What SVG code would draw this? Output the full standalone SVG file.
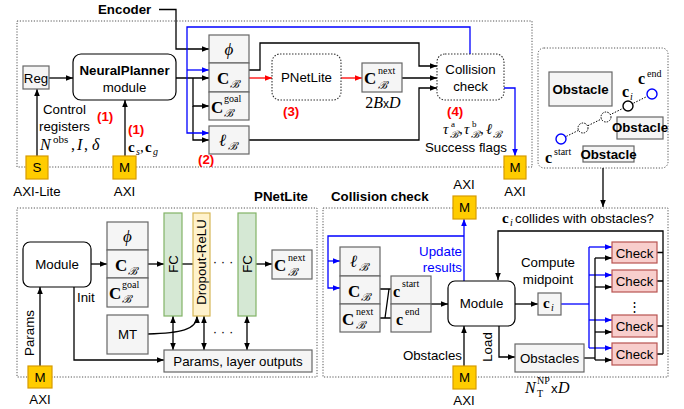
<svg xmlns="http://www.w3.org/2000/svg" width="684" height="409" viewBox="0 0 684 409">
<defs>
<style>
.s{font-family:"Liberation Sans",Arial,sans-serif;font-size:13.3px;fill:#000}
.b{font-weight:bold}
.m{font-family:"Liberation Serif","DejaVu Serif",serif;fill:#000}
.it{font-style:italic}
.box{fill:#f5f5f5;stroke:#666;stroke-width:1.2}
.ax{fill:#ffcc00;stroke:#d79b00;stroke-width:1.2}
.w{fill:#fff;stroke:#000;stroke-width:1.2}
.dot{fill:#fff;stroke:#333;stroke-dasharray:1.5 1.5;stroke-width:1.1}
.frame{fill:none;stroke:#555;stroke-dasharray:1.2 1.6;stroke-width:1}
.ln{fill:none;stroke:#000;stroke-width:1.3}
.bl{fill:none;stroke:#0000ff;stroke-width:1.3}
.rd{fill:none;stroke:#ff0000;stroke-width:1.3}
.red{fill:#ff0000;font-weight:bold}
.fc{fill:#d5e8d4;stroke:#82b366;stroke-width:1.2}
.dr{fill:#fff2cc;stroke:#d6b656;stroke-width:1.2}
.ck{fill:#f8cecc;stroke:#b85450;stroke-width:1.2}
</style>
<marker id="a" viewBox="0 0 10 10" refX="10" refY="5" markerWidth="8" markerHeight="7" orient="auto-start-reverse" markerUnits="userSpaceOnUse"><path d="M0,1 L10,5 L0,9 z" fill="#000"/></marker>
<marker id="ab" viewBox="0 0 10 10" refX="10" refY="5" markerWidth="8" markerHeight="7" orient="auto-start-reverse" markerUnits="userSpaceOnUse"><path d="M0,1 L10,5 L0,9 z" fill="#0000ff"/></marker>
<marker id="ar" viewBox="0 0 10 10" refX="10" refY="5" markerWidth="8" markerHeight="7" orient="auto-start-reverse" markerUnits="userSpaceOnUse"><path d="M0,1 L10,5 L0,9 z" fill="#ff0000"/></marker>
</defs>
<rect width="684" height="409" fill="#fff"/>

<!-- frames -->
<rect x="17" y="21" width="515" height="146" fill="#f9f6ec" class="frame"/>
<rect x="538" y="48" width="130" height="120" rx="6" class="frame"/>
<rect x="17" y="208" width="300" height="169" class="frame"/>
<rect x="323" y="208" width="345" height="169" class="frame"/>
<text class="s b" x="98" y="14">Encoder</text>
<text class="s b" x="308" y="201" text-anchor="end">PNetLite</text>
<text class="s b" x="331" y="201">Collision check</text>

<!-- connectors -->
<g id="connectors">
<path class="ln" d="M159,9.5 H176 V49 H209" marker-end="url(#a)"/>
<path class="ln" d="M49,78 H73" marker-end="url(#a)"/>
<path class="ln" d="M37,156 V89" marker-end="url(#a)"/>
<path class="ln" d="M125,156 V100" stroke-width="2.2" marker-end="url(#a)"/>
<path class="ln" d="M176,78 H209" marker-end="url(#a)"/>
<path class="ln" d="M193,78 V106 H209" marker-end="url(#a)"/>
<path class="ln" d="M193,106 V140 H209" marker-end="url(#a)"/>
<path class="bl" d="M470,54 V27 H187 V133 H209" marker-end="url(#ab)"/>
<path class="bl" d="M187,70 H209" marker-end="url(#ab)"/>
<path class="ln" d="M249,70 H260 V43 H419 V66 H437" marker-end="url(#a)"/>
<path class="rd" d="M249,78 H272" marker-end="url(#ar)"/>
<path class="rd" d="M341,78 H362" marker-end="url(#ar)"/>
<path class="ln" d="M402,78 H437" marker-end="url(#a)"/>
<path class="ln" d="M249,140 H419 V88 H437" marker-end="url(#a)"/>
<path class="bl" d="M504,88 H515 V156" marker-end="url(#ab)"/>
<path class="ln" d="M603,168 V207" marker-end="url(#a)"/>
<!-- PNetLite internals -->
<path class="ln" d="M91,264 H107" marker-end="url(#a)"/>
<path class="ln" d="M148,264 H164" marker-end="url(#a)"/>
<path class="ln" d="M182,264 H193"/>
<path class="ln" d="M256,264 H272" marker-end="url(#a)"/>
<path class="ln" d="M173,316 V350" marker-start="url(#a)" marker-end="url(#a)"/>
<path class="ln" d="M204,316 V350" marker-start="url(#a)" marker-end="url(#a)"/>
<path class="ln" d="M247,316 V350" marker-start="url(#a)" marker-end="url(#a)"/>
<path class="ln" d="M148,334 C180,333 197,330 197,316" marker-end="url(#a)"/>
<path class="ln" d="M74,287 V360 H164" marker-end="url(#a)"/>
<path class="ln" d="M40,366 V287" marker-end="url(#a)"/>
<!-- collision check internals -->
<path class="bl" d="M464,281 V219" marker-end="url(#ab)"/>
<path class="bl" d="M464,236 H328 V288 H340" marker-end="url(#ab)"/>
<path class="bl" d="M328,261 H340" marker-end="url(#ab)"/>
<path class="ln" d="M380,289 H391 M389,289 L385,318 M380,318 H391"/>
<path class="ln" d="M431,304 H448" marker-end="url(#a)"/>
<path class="ln" d="M464,366 V326" marker-end="url(#a)"/>
<path class="ln" d="M499,326 V357 H515" marker-end="url(#a)"/>
<path class="ln" d="M515,304 H538" marker-end="url(#a)"/>
<path class="bl" d="M561,304 H589" stroke-width="2.4"/>
<path class="bl" d="M589,247 V348"/>
<path class="bl" d="M589,247 H612" marker-end="url(#ab)"/>
<path class="bl" d="M589,275 H612" marker-end="url(#ab)"/>
<path class="bl" d="M589,320 H612" marker-end="url(#ab)"/>
<path class="bl" d="M589,348 H612" marker-end="url(#ab)"/>
<path class="ln" d="M584,358 H595" stroke-width="2.2"/>
<path class="ln" d="M595,258 V360"/>
<path class="ln" d="M595,258 H612" marker-end="url(#a)"/>
<path class="ln" d="M595,287 H612" marker-end="url(#a)"/>
<path class="ln" d="M595,332 H612" marker-end="url(#a)"/>
<path class="ln" d="M595,360 H612" marker-end="url(#a)"/>
<path class="ln" d="M657,252.5 H663 M657,281 H663 M657,326 H663 M657,354 H663"/>
<path class="ln" d="M663,354 V231 H498 V280" marker-end="url(#a)"/>
</g>

<!-- top pipeline -->
<g id="reg"><rect class="box" x="23" y="66" width="26" height="23"/><text class="s" x="36" y="82.5" text-anchor="middle">Reg</text></g>
<g id="neuralplanner"><rect class="w" x="73" y="54" width="103" height="46" rx="8"/>
<text class="s b" x="124.5" y="75" text-anchor="middle">NeuralPlanner</text>
<text class="s" x="124.5" y="92" text-anchor="middle">module</text></g>
<g id="axi-lite-s"><rect class="ax" x="26" y="156" width="22" height="23"/><text class="s" x="37" y="172" text-anchor="middle">S</text>
<text class="s" x="37" y="196" text-anchor="middle">AXI-Lite</text></g>
<g id="axi-m-in"><rect class="ax" x="113" y="156" width="23" height="23"/><text class="s" x="124.5" y="172" text-anchor="middle">M</text>
<text class="s" x="124.5" y="196" text-anchor="middle">AXI</text></g>
<text class="s" x="43" y="114">Control</text>
<text class="s" x="39" y="131">registers</text>
<text class="m it" x="40" y="150" font-size="16">N</text>
<text class="m" x="53" y="143" font-size="11">obs</text>
<text class="m" x="71" y="150" font-size="16">,</text>
<text class="m it" x="77" y="150" font-size="16">I</text>
<text class="m" x="84" y="150" font-size="16">,</text>
<text class="m it" x="92" y="150" font-size="16">δ</text>
<text class="s red" x="97" y="121">(1)</text>
<text class="s red" x="128" y="134">(1)</text>
<text class="m b" x="128" y="152" font-size="15">c</text><text class="m it" x="136" y="155" font-size="10">s</text>
<text class="m" x="140" y="152" font-size="15">,</text>
<text class="m b" x="145" y="152" font-size="15">c</text><text class="m it" x="153" y="155" font-size="10">g</text>

<g id="enc-phi"><rect class="box" x="209" y="35" width="40" height="28"/><text class="m it" x="229" y="55" font-size="17" text-anchor="middle">ϕ</text></g>
<g id="enc-cb"><rect class="box" x="209" y="63" width="40" height="29"/><text class="m b" x="217" y="84" font-size="17">C</text><text class="m it" x="230" y="88" font-size="11">ℬ</text></g>
<g id="enc-cgoal"><rect class="box" x="209" y="92" width="40" height="28"/><text class="m b" x="211" y="113" font-size="17">C</text><text class="m" x="224" y="102" font-size="10">goal</text><text class="m it" x="224" y="117" font-size="11">ℬ</text></g>
<g id="enc-l"><rect class="box" x="209" y="126" width="40" height="28"/><text class="m it" x="219" y="146" font-size="17">ℓ</text><text class="m it" x="228" y="150" font-size="11">ℬ</text></g>
<text class="s red" x="198" y="164">(2)</text>
<g id="pnetlite"><rect class="dot" x="272" y="54" width="69" height="46" rx="8"/><text class="s" x="306.5" y="82" text-anchor="middle">PNetLite</text></g>
<text class="s red" x="283" y="116">(3)</text>
<g id="cnext"><rect class="box" x="362" y="63" width="40" height="29"/><text class="m b" x="364" y="84" font-size="17">C</text><text class="m" x="378" y="74" font-size="10">next</text><text class="m it" x="378" y="89" font-size="11">ℬ</text></g>
<text class="m" x="383" y="108" font-size="16" text-anchor="middle">2<tspan class="it">B</tspan><tspan font-family="Liberation Sans,sans-serif" font-size="12">x</tspan><tspan class="it">D</tspan></text>
<g id="collision"><rect class="dot" x="437" y="54" width="67" height="46" rx="8"/>
<text class="s" x="470.5" y="74" text-anchor="middle">Collision</text><text class="s" x="470.5" y="91" text-anchor="middle">check</text></g>
<text class="s red" x="447" y="116">(4)</text>
<text class="m it" x="443" y="134" font-size="15">τ</text><text class="m" x="451" y="127" font-size="9">a</text><text class="m it" x="450" y="138" font-size="10">ℬ</text>
<text class="m" x="459" y="134" font-size="15">,</text>
<text class="m it" x="464" y="134" font-size="15">τ</text><text class="m" x="472" y="127" font-size="9">b</text><text class="m it" x="471" y="138" font-size="10">ℬ</text>
<text class="m" x="480" y="134" font-size="15">,</text>
<text class="m it" x="486" y="134" font-size="15">ℓ</text><text class="m it" x="493" y="138" font-size="10">ℬ</text>
<text class="s" x="507" y="152" text-anchor="end">Success flags</text>
<g id="axi-m-out"><rect class="ax" x="504" y="156" width="22" height="23"/><text class="s" x="515" y="172" text-anchor="middle">M</text>
<text class="s" x="515" y="196" text-anchor="middle">AXI</text></g>

<!-- obstacle sketch -->
<g id="obstacle-sketch">
<rect class="box" x="549" y="72" width="63" height="34"/><text class="s b" x="580.5" y="94" text-anchor="middle" font-size="13.5">Obstacle</text>
<rect class="box" x="617" y="117" width="46" height="22"/><text class="s b" x="640" y="132" text-anchor="middle" font-size="10">Obstacle</text>
<rect class="box" x="583" y="146" width="51" height="16"/><text class="s b" x="608.5" y="158.5" text-anchor="middle" font-size="11">Obstacle</text>
<path d="M561,139 L652,94" stroke="#000" stroke-width="1" stroke-dasharray="1.5 1.5" fill="none"/>
<circle cx="583" cy="128" r="5" fill="#fff" stroke="#000" stroke-dasharray="1.5 1.2"/>
<circle cx="606" cy="117" r="5" fill="#fff" stroke="#000" stroke-dasharray="1.5 1.2"/>
<circle cx="628" cy="106" r="5" fill="#fff" stroke="#000" stroke-width="1.4"/>
<circle cx="561" cy="139" r="5" fill="#fff" stroke="#0000ff" stroke-width="1.4"/>
<circle cx="652" cy="94" r="5" fill="#fff" stroke="#0000ff" stroke-width="1.4"/>
<text class="m b" x="638" y="84" font-size="16">c</text><text class="m" x="647" y="77" font-size="10">end</text>
<text class="m b" x="622" y="97" font-size="16">c</text><text class="m it" x="630" y="100" font-size="10">i</text>
<text class="m b" x="545" y="163" font-size="16">c</text><text class="m" x="554" y="155" font-size="10">start</text>
</g>

<!-- PNetLite detail -->
<g id="pn-module"><rect class="w" x="23" y="242" width="68" height="45" rx="7"/><text class="s" x="57" y="269" text-anchor="middle">Module</text></g>
<g id="pn-phi"><rect class="box" x="107" y="222" width="41" height="28"/><text class="m it" x="127.5" y="242" font-size="17" text-anchor="middle">ϕ</text></g>
<g id="pn-cb"><rect class="box" x="107" y="250" width="41" height="28"/><text class="m b" x="115" y="271" font-size="17">C</text><text class="m it" x="128" y="275" font-size="11">ℬ</text></g>
<g id="pn-cgoal"><rect class="box" x="107" y="278" width="41" height="29"/><text class="m b" x="109" y="299" font-size="17">C</text><text class="m" x="122" y="288" font-size="10">goal</text><text class="m it" x="122" y="303" font-size="11">ℬ</text></g>
<g id="pn-mt"><rect class="box" x="107" y="315" width="41" height="39"/><text class="s" x="127.5" y="339" text-anchor="middle">MT</text></g>
<g id="pn-fc1"><rect class="fc" x="164" y="213" width="18" height="103"/><text class="s" transform="translate(173,264) rotate(-90)" text-anchor="middle" dominant-baseline="central">FC</text></g>
<g id="pn-dropout"><rect class="dr" x="193" y="213" width="17" height="103"/><text class="s" transform="translate(201.5,262) rotate(-90)" text-anchor="middle" dominant-baseline="central">Dropout-ReLU</text></g>
<text class="s" x="223" y="266" text-anchor="middle">· · ·</text>
<text class="s" x="223" y="336" text-anchor="middle">· · ·</text>
<g id="pn-fc2"><rect class="fc" x="238" y="213" width="18" height="103"/><text class="s" transform="translate(247,264) rotate(-90)" text-anchor="middle" dominant-baseline="central">FC</text></g>
<g id="pn-cnext"><rect class="box" x="272" y="250" width="40" height="29"/><text class="m b" x="274" y="271" font-size="17">C</text><text class="m" x="288" y="261" font-size="10">next</text><text class="m it" x="288" y="276" font-size="11">ℬ</text></g>
<g id="pn-params"><rect class="box" x="164" y="350" width="148" height="22"/><text class="s" x="238" y="366" text-anchor="middle">Params, layer outputs</text></g>
<text class="s" x="77" y="302">Init</text>
<text class="s" transform="translate(29,333) rotate(-90)" text-anchor="middle" dominant-baseline="central">Params</text>
<g id="pn-axi"><rect class="ax" x="28" y="366" width="24" height="22"/><text class="s" x="40" y="382" text-anchor="middle">M</text>
<text class="s" x="40" y="404" text-anchor="middle">AXI</text></g>

<!-- collision check detail -->
<g id="cc-axi-top"><text class="s" x="464" y="189" text-anchor="middle">AXI</text><rect class="ax" x="453" y="196" width="23" height="23"/><text class="s" x="464.5" y="212" text-anchor="middle">M</text></g>
<text class="s" x="462" y="256" text-anchor="end" style="fill:#0000ff">Update</text>
<text class="s" x="462" y="272" text-anchor="end" style="fill:#0000ff">results</text>
<g id="cc-l"><rect class="box" x="340" y="247" width="40" height="29"/><text class="m it" x="350" y="267" font-size="17">ℓ</text><text class="m it" x="359" y="271" font-size="11">ℬ</text></g>
<g id="cc-cb"><rect class="box" x="340" y="276" width="40" height="28"/><text class="m b" x="348" y="297" font-size="17">C</text><text class="m it" x="361" y="301" font-size="11">ℬ</text></g>
<g id="cc-cnext"><rect class="box" x="340" y="304" width="40" height="28"/><text class="m b" x="342" y="325" font-size="17">C</text><text class="m" x="356" y="315" font-size="10">next</text><text class="m it" x="356" y="329" font-size="11">ℬ</text></g>
<g id="cc-cstart"><rect class="box" x="391" y="276" width="40" height="28"/><text class="m b" x="393" y="297" font-size="16">c</text><text class="m" x="402" y="287" font-size="10">start</text></g>
<g id="cc-cend"><rect class="box" x="391" y="304" width="40" height="28"/><text class="m b" x="396" y="325" font-size="16">c</text><text class="m" x="405" y="315" font-size="10">end</text></g>
<g id="cc-module"><rect class="w" x="448" y="281" width="67" height="45" rx="7"/><text class="s" x="481.5" y="308" text-anchor="middle">Module</text></g>
<text class="s" x="462" y="360" text-anchor="end">Obstacles</text>
<text class="s" transform="translate(487,347) rotate(-90)" text-anchor="middle" dominant-baseline="central">Load</text>
<g id="cc-axi-bottom"><rect class="ax" x="453" y="366" width="23" height="23"/><text class="s" x="464.5" y="382" text-anchor="middle">M</text>
<text class="s" x="464" y="405" text-anchor="middle">AXI</text></g>
<g id="cc-obstacles"><rect class="box" x="515" y="344" width="69" height="28"/><text class="s" x="549.5" y="363" text-anchor="middle">Obstacles</text></g>
<text class="m it" x="525" y="393" font-size="16">N</text><text class="m" x="537" y="384" font-size="10">NP</text><text class="m" x="537" y="397" font-size="10">T</text>
<text class="s" x="551" y="393" font-size="12">x</text><text class="m it" x="558" y="393" font-size="16">D</text>
<g id="cc-ci"><rect class="box" x="538" y="293" width="23" height="22"/><text class="m b" x="543" y="308" font-size="15">c</text><text class="m it" x="551" y="311" font-size="10">i</text></g>
<text class="s" x="548" y="267" text-anchor="middle">Compute</text>
<text class="s" x="548" y="284" text-anchor="middle">midpoint</text>
<text class="m b" x="502" y="223" font-size="15">c</text><text class="m it" x="510" y="226" font-size="10">i</text>
<text class="s" x="515" y="223">collides with obstacles?</text>
<g id="check-1"><rect class="ck" x="612" y="242" width="45" height="21"/><text class="s" x="634.5" y="257.5" text-anchor="middle">Check</text></g>
<g id="check-2"><rect class="ck" x="612" y="270" width="45" height="22"/><text class="s" x="634.5" y="286" text-anchor="middle">Check</text></g>
<text class="s" x="634.5" y="311" text-anchor="middle">⋮</text>
<g id="check-3"><rect class="ck" x="612" y="315" width="45" height="22"/><text class="s" x="634.5" y="331" text-anchor="middle">Check</text></g>
<g id="check-4"><rect class="ck" x="612" y="343" width="45" height="22"/><text class="s" x="634.5" y="359" text-anchor="middle">Check</text></g>
</svg>
